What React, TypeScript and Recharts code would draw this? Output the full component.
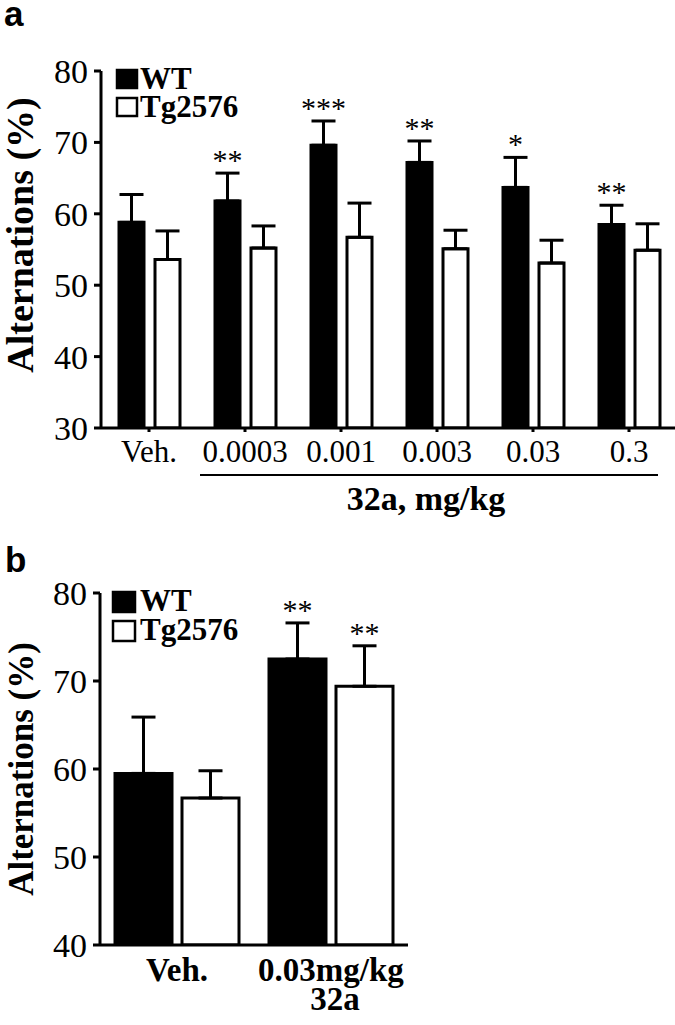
import { BarChart, Bar, XAxis, YAxis, ErrorBar, LabelList, Legend } from "recharts";

// panel a
const dosesA = ["Veh.", "0.0003", "0.001", "0.003", "0.03", "0.3"];
const wtA = [58.8, 61.8, 69.6, 67.2, 63.7, 58.5];
const wtErrA = [3.9, 3.9, 3.4, 3.0, 4.2, 2.7];
const tgA = [53.6, 55.2, 56.7, 55.1, 53.1, 54.9];
const tgErrA = [4.0, 3.1, 4.8, 2.6, 3.2, 3.7];
const sigWtA = ["", "**", "***", "**", "*", "**"];
const sigTgA = ["", "", "", "", "", ""];
const ticksA = [30, 40, 50, 60, 70, 80];

// panel b
const dosesB = ["Veh.", "0.03mg/kg\n32a"];
const wtB = [59.5, 72.5];
const wtErrB = [6.4, 4.1];
const tgB = [56.7, 69.4];
const tgErrB = [3.1, 4.6];
const sigWtB = ["", "**"];
const sigTgB = ["", "**"];
const ticksB = [40, 50, 60, 70, 80];

const seriesOrder = ["WT", "Tg2576"];

const rowsA = dosesA.map((d, i) => ({
  dose: d,
  WT: wtA[i],
  Tg2576: tgA[i],
  wtErr: [0, wtErrA[i]],
  tgErr: [0, tgErrA[i]],
}));

const rowsB = dosesB.map((d, i) => ({
  dose: d,
  WT: wtB[i],
  Tg2576: tgB[i],
  wtErr: [0, wtErrB[i]],
  tgErr: [0, tgErrB[i]],
}));

const serif = "'Liberation Serif', 'Times New Roman', serif";
const sans = "'Liberation Sans', Arial, sans-serif";

// stars sit above the error cap; pixel size per unit taken from the bar itself
const stars = (sig: string[], errs: number[], min: number) => (props: any) => {
  const { x, y, width, height, value, index } = props;
  const s = sig[index];
  if (!s) return null;
  const perUnit = height / (value - min);
  const capY = y - errs[index] * perUnit;
  return (
    <text x={x + width / 2} y={capY - 3} textAnchor="middle" fontFamily={serif} fontSize={30} fill="#000">
      {s}
    </text>
  );
};

const legendBox = (sq: number, fs: number, textX: number, rowH: number) => (props: any) => {
  const items = [...(props.payload || [])].sort(
    (a: any, b: any) => seriesOrder.indexOf(a.value) - seriesOrder.indexOf(b.value)
  );
  return (
    <svg width={170} height={66} style={{ overflow: "visible" }}>
      {items.map((p: any, i: number) => (
        <g key={p.value}>
          <rect
            x={3}
            y={5 + i * rowH}
            width={sq}
            height={sq - 2}
            fill={p.color}
            stroke="#000"
            strokeWidth={2.5}
          />
          <text x={textX} y={24 + i * rowH} fontFamily={serif} fontWeight="bold" fontSize={fs} fill="#000">
            {p.value}
          </text>
        </g>
      ))}
    </svg>
  );
};

const TickA = ({ x, y, payload }: any) => (
  <text x={x} y={y + 30} textAnchor="middle" fontFamily={serif} fontSize={31} fill="#000">
    {payload.value}
  </text>
);

const TickB = ({ x, y, payload }: any) => {
  const lines = String(payload.value).split("\n");
  return (
    <text x={x} textAnchor="middle" fontFamily={serif} fontWeight="bold" fontSize={33} fill="#000">
      {lines.map((l, i) => (
        <tspan key={i} x={x + i * 4} y={y + 36 + i * 29}>
          {l}
        </tspan>
      ))}
    </text>
  );
};

const axisStyle = { stroke: "#000", strokeWidth: 3 };
const yTick = { fill: "#000", fontSize: 34, fontFamily: serif };

export default function App() {
  return (
    <div
      style={{
        position: "absolute",
        left: 0,
        top: 0,
        width: 675,
        height: 1025,
        overflow: "hidden",
        background: "#fff",
      }}
    >
      <div style={{ position: "absolute", left: 0, top: 0 }}>
        <BarChart
          width={680}
          height={520}
          data={rowsA}
          margin={{ top: 71, right: 3, bottom: 52, left: 41 }}
          barSize={25}
          barGap={11}
        >
          <XAxis
            dataKey="dose"
            interval={0}
            height={40}
            tickSize={4}
            tickMargin={0}
            axisLine={axisStyle}
            tickLine={axisStyle}
            tick={<TickA />}
          />
          <YAxis
            width={60}
            domain={[30, 80]}
            ticks={ticksA}
            allowDataOverflow
            tickSize={7}
            tickMargin={6}
            axisLine={axisStyle}
            tickLine={axisStyle}
            tick={yTick}
          />
          <Legend
            layout="vertical"
            verticalAlign="middle"
            align="center"
            wrapperStyle={{ left: 114, top: 65, width: 170, height: 66 }}
            content={legendBox(20, 31, 26, 28)}
          />
          <Bar dataKey="WT" fill="#000" stroke="#000" strokeWidth={3} isAnimationActive={false}>
            <ErrorBar dataKey="wtErr" width={12} stroke="#000" strokeWidth={3} direction="y" />
            <LabelList dataKey="WT" content={stars(sigWtA, wtErrA, 30)} />
          </Bar>
          <Bar dataKey="Tg2576" fill="#fff" stroke="#000" strokeWidth={3} isAnimationActive={false}>
            <ErrorBar dataKey="tgErr" width={12} stroke="#000" strokeWidth={3} direction="y" />
            <LabelList dataKey="Tg2576" content={stars(sigTgA, tgErrA, 30)} />
          </Bar>
        </BarChart>
      </div>

      <div style={{ position: "absolute", left: 0, top: 530 }}>
        <BarChart
          width={420}
          height={495}
          data={rowsB}
          margin={{ top: 63, right: 12, bottom: 40, left: 40 }}
          barSize={57}
          barGap={10}
        >
          <XAxis
            dataKey="dose"
            interval={0}
            height={40}
            tickSize={0}
            tickMargin={0}
            axisLine={axisStyle}
            tickLine={false}
            tick={<TickB />}
          />
          <YAxis
            width={60}
            domain={[40, 80]}
            ticks={ticksB}
            allowDataOverflow
            tickSize={7}
            tickMargin={6}
            axisLine={axisStyle}
            tickLine={axisStyle}
            tick={yTick}
          />
          <Legend
            layout="vertical"
            verticalAlign="middle"
            align="center"
            wrapperStyle={{ left: 110, top: 57, width: 170, height: 66 }}
            content={legendBox(22, 31, 30, 29)}
          />
          <Bar dataKey="WT" fill="#000" stroke="#000" strokeWidth={3} isAnimationActive={false}>
            <ErrorBar dataKey="wtErr" width={12} stroke="#000" strokeWidth={3} direction="y" />
            <LabelList dataKey="WT" content={stars(sigWtB, wtErrB, 40)} />
          </Bar>
          <Bar dataKey="Tg2576" fill="#fff" stroke="#000" strokeWidth={3} isAnimationActive={false}>
            <ErrorBar dataKey="tgErr" width={12} stroke="#000" strokeWidth={3} direction="y" />
            <LabelList dataKey="Tg2576" content={stars(sigTgB, tgErrB, 40)} />
          </Bar>
        </BarChart>
      </div>

      <svg
        width={675}
        height={1025}
        style={{ position: "absolute", left: 0, top: 0, pointerEvents: "none" }}
      >
        <text x={4} y={26} fontFamily={sans} fontWeight="bold" fontSize={35} fill="#000">
          a
        </text>
        <text x={5} y={572} fontFamily={sans} fontWeight="bold" fontSize={35} fill="#000">
          b
        </text>
        <text
          x={33}
          y={235}
          transform="rotate(-90 33 235)"
          textAnchor="middle"
          fontFamily={serif}
          fontWeight="bold"
          fontSize={38}
          fill="#000"
        >
          Alternations (%)
        </text>
        <text
          x={33}
          y={769}
          transform="rotate(-90 33 769)"
          textAnchor="middle"
          fontFamily={serif}
          fontWeight="bold"
          fontSize={35}
          fill="#000"
        >
          Alternations (%)
        </text>
        <line x1={200} y1={475} x2={658} y2={475} stroke="#000" strokeWidth={2} />
        <text x={426} y={510} textAnchor="middle" fontFamily={serif} fontWeight="bold" fontSize={34} fill="#000">
          32a, mg/kg
        </text>
      </svg>
    </div>
  );
}
